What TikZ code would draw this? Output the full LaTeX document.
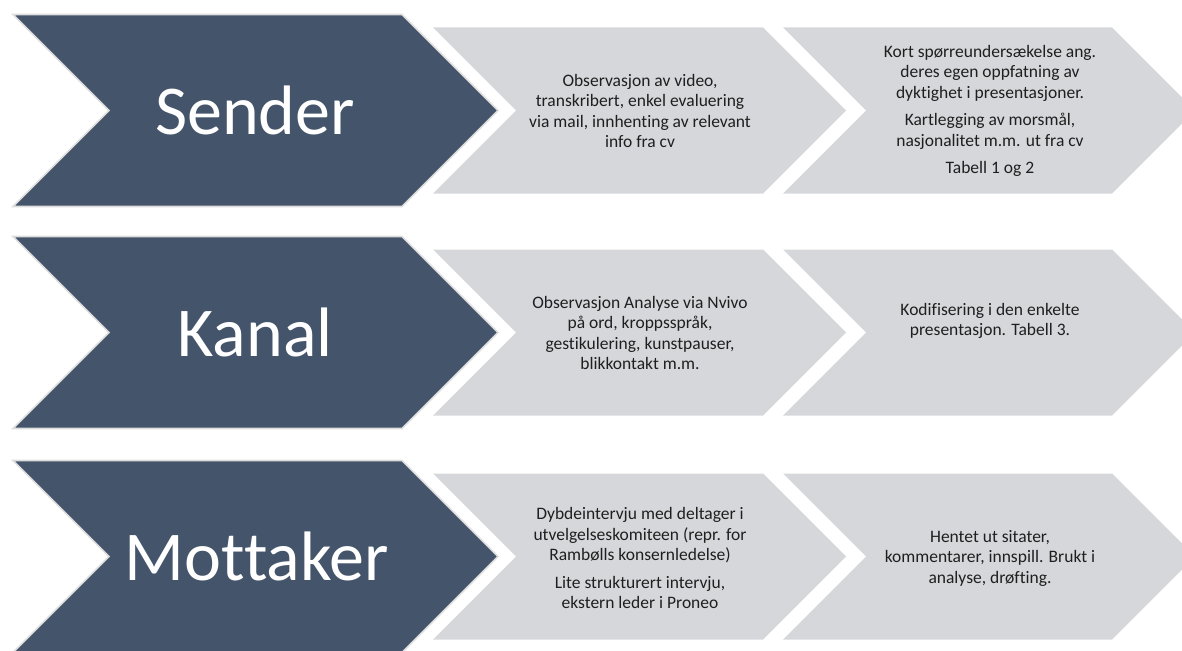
\documentclass[tikz,border=0pt]{standalone}
\usepackage{fontspec}
\setmainfont{Carlito}[Ligatures={NoCommon,NoContextual},RawFeature={-clig;-calt;-liga}]
\definecolor{slate}{HTML}{44546A}
\definecolor{pale}{HTML}{D6D7DB}
\definecolor{rim}{HTML}{DDDDDD}

% Chevron outline: style, left x, middle y, half height, body length
\newcommand{\chevshape}[5]{%
  \path[#1] (#2,#3-#4) -- (#2+#5,#3-#4) -- (#2+#5+#4,#3) -- (#2+#5,#3+#4)
    -- (#2,#3+#4) -- (#2+#4,#3) -- cycle;}

\begin{document}
\begin{tikzpicture}[x=1pt,y=-1pt,
  headchev/.style={fill=slate,draw=rim,line width=1.6pt,line join=miter},
  stepchev/.style={fill=pale},
  headlabel/.style={text=white,font=\fontsize{70}{80}\selectfont,inner sep=0pt},
  steptext/.style={text=black!88,font=\fontsize{17.5}{20.5}\selectfont,align=center,inner sep=0pt}]
\useasboundingbox (0,0) rectangle (1182,650);
\clip (0,0) rectangle (1182,650);

% rows: dark heading chevron followed by two grey step chevrons
\foreach \ym in {110.5,332.5,556.5}{
  \chevshape{stepchev}{783}{\ym}{83}{329}
  \chevshape{stepchev}{433}{\ym}{83}{330}
  \chevshape{headchev}{13}{\ym}{96}{389}
}

% row 1
\node[headlabel] (sender) at (255,110.5) {Sender};
\node[steptext] (s1) at (640,111) {Observasjon av video,\\transkribert, enkel evaluering\\via mail, innhenting av relevant\\info fra cv};
\node[steptext] (s2) at (990,111) {Kort spørreundersækelse ang.\\deres egen oppfatning av\\dyktighet i presentasjoner.\\[7pt]Kartlegging av morsmål,\\nasjonalitet m.m. ut fra cv\\[7pt]Tabell 1 og 2};

% row 2
\node[headlabel] (kanal) at (255,332.5) {Kanal};
\node[steptext] (k1) at (640,333) {Observasjon Analyse via Nvivo\\på ord, kroppsspråk,\\gestikulering, kunstpauser,\\blikkontakt m.m.};
\node[steptext] (k2) at (990,321) {Kodifisering i den enkelte\\presentasjon. Tabell 3.};

% row 3
\node[headlabel] (mottaker) at (257,556.5) {Mottaker};
\node[steptext] (m1) at (640,558) {Dybdeintervju med deltager i\\utvelgelseskomiteen (repr. for\\Rambølls konsernledelse)\\[7pt]Lite strukturert intervju,\\ekstern leder i Proneo};
\node[steptext] (m2) at (990,558) {Hentet ut sitater,\\kommentarer, innspill. Brukt i\\analyse, drøfting.};
\end{tikzpicture}
\end{document}
